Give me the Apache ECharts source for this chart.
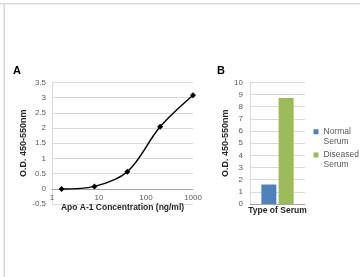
<!DOCTYPE html>
<html>
<head>
<meta charset="utf-8">
<script src="https://cdn.jsdelivr.net/npm/echarts@6/dist/echarts.min.js"></script>
<style>
  html, body { margin: 0; padding: 0; background: #fff; }
  #chart { width: 360px; height: 277px; }
</style>
</head>
<body>
<div id="chart"></div>
<script>
// panel A: standard curve
var concentrations = [1.6, 8, 40, 200, 1000];
var odValues = [-0.01, 0.08, 0.56, 2.04, 3.08];
// panel B: serum types
var serumCategories = ['Type of Serum'];
var normalSerum = [1.6];
var diseasedSerum = [8.7];

var font = 'Liberation Sans, Arial, sans-serif';
var labelGray = '#595959';
var gridGray = '#d9d9d9';

var chart = echarts.init(document.getElementById('chart'), null, { renderer: 'canvas' });

var option = {
  backgroundColor: '#fff',
  animation: false,
  textStyle: { fontFamily: font },
  graphic: [
    { type: 'rect', shape: { x: 0, y: 3, width: 360, height: 1.5 }, style: { fill: gridGray } },
    { type: 'rect', shape: { x: 3.5, y: 3, width: 1.5, height: 274 }, style: { fill: gridGray } },
    { type: 'text', left: 13, top: 65, style: { text: 'A', font: 'bold 11px ' + font, fill: '#000' } },
    { type: 'text', left: 217, top: 65, style: { text: 'B', font: 'bold 11px ' + font, fill: '#000' } }
  ],
  grid: [
    { left: 52, top: 82.5, width: 141, height: 121.5 },
    { left: 250, top: 82.3, width: 55, height: 121.7 }
  ],
  legend: {
    orient: 'vertical',
    left: 308.5,
    top: 112.5,
    itemWidth: 5,
    itemHeight: 5,
    itemGap: -5.25,
    icon: 'rect',
    textStyle: { fontSize: 8.5, color: labelGray, lineHeight: 9.5, fontFamily: font },
    // empty first line keeps the marker level with the first word
    formatter: function (name) { return '\n' + name.replace(' ', '\n'); },
    data: ['Normal Serum', 'Diseased Serum']
  },
  xAxis: [
    {
      gridIndex: 0,
      type: 'log',
      logBase: 10,
      min: 1,
      max: 1000,
      // sit the axis on y = 0 (0.5 units above the bottom of the grid)
      offset: -121.5 / 8,
      axisLine: { onZero: false, lineStyle: { color: '#a6a6a6' } },
      axisTick: { show: false },
      minorTick: { show: false },
      splitLine: { show: false },
      axisLabel: { fontSize: 8, color: labelGray, margin: 5, formatter: function (v) { return String(v); } },
      name: 'Apo A-1 Concentration (ng/ml)',
      nameLocation: 'middle',
      nameGap: 13,
      nameTextStyle: { fontSize: 8.5, fontWeight: 'bold', color: '#262626' }
    },
    {
      gridIndex: 1,
      type: 'category',
      data: serumCategories,
      axisLine: { lineStyle: { color: '#a6a6a6' } },
      axisTick: { show: false },
      axisLabel: { fontSize: 8.5, fontWeight: 'bold', color: '#262626', margin: 2 }
    }
  ],
  yAxis: [
    {
      gridIndex: 0,
      type: 'value',
      min: -0.5,
      max: 3.5,
      interval: 0.5,
      axisLine: { show: true, onZero: false, lineStyle: { color: gridGray } },
      axisTick: { show: false },
      splitLine: { lineStyle: { color: gridGray } },
      axisLabel: { fontSize: 8, color: labelGray, margin: 6 },
      name: 'O.D. 450-550nm',
      nameLocation: 'middle',
      nameGap: 18.5,
      nameTextStyle: { fontSize: 9, fontWeight: 'bold', color: '#262626' }
    },
    {
      gridIndex: 1,
      type: 'value',
      min: 0,
      max: 10,
      interval: 1,
      axisLine: { show: true, lineStyle: { color: gridGray } },
      axisTick: { show: false },
      splitLine: { lineStyle: { color: gridGray } },
      axisLabel: { fontSize: 8, color: labelGray, margin: 7 },
      name: 'O.D. 450-550nm',
      nameLocation: 'middle',
      nameGap: 13.5,
      nameTextStyle: { fontSize: 9, fontWeight: 'bold', color: '#262626' }
    }
  ],
  series: [
    {
      type: 'line',
      xAxisIndex: 0,
      yAxisIndex: 0,
      smooth: 0.35,
      symbol: 'diamond',
      symbolSize: 6,
      lineStyle: { color: '#000', width: 1.5 },
      itemStyle: { color: '#000' },
      data: concentrations.map(function (c, i) { return [c, odValues[i]]; })
    },
    {
      name: 'Normal Serum',
      type: 'bar',
      xAxisIndex: 1,
      yAxisIndex: 1,
      barWidth: 15,
      barGap: '15%',
      itemStyle: { color: '#4f81bd' },
      data: normalSerum
    },
    {
      name: 'Diseased Serum',
      type: 'bar',
      xAxisIndex: 1,
      yAxisIndex: 1,
      barWidth: 15,
      barGap: '15%',
      itemStyle: { color: '#9bbb59' },
      data: diseasedSerum
    }
  ]
};

chart.setOption(option);
</script>
</body>
</html>
